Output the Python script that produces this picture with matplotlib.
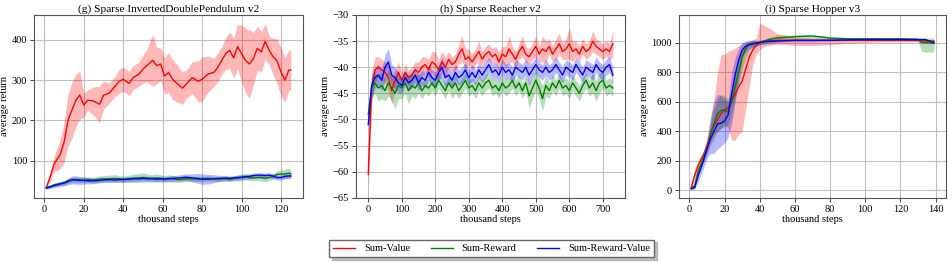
import numpy as np
import matplotlib
matplotlib.use('Agg')
import matplotlib.pyplot as plt

plt.rcParams['font.family'] = ['Liberation Serif', 'DejaVu Serif']
plt.rcParams['mathtext.fontset'] = 'stix'

#------------------------
# (g) Sparse InvertedDoublePendulum v2
#------------------------
idp_x = [1, 3, 5, 8, 10, 12, 14, 16, 18, 20, 22, 25, 28, 30, 33, 36, 38, 40, 43, 45, 48, 50, 52, 55, 57, 59,
         61, 63, 65, 68, 70, 72, 75, 78, 80, 83, 86, 88, 90, 92, 94, 96, 98, 100, 102, 104, 106, 108, 110,
         112, 114, 116, 118, 120, 122, 124, 125]
idp_value = [33, 60, 92, 115, 145, 200, 225, 250, 263, 238, 250, 248, 240, 262, 268, 285, 297, 302, 292, 306,
             315, 327, 336, 349, 336, 340, 310, 319, 302, 289, 280, 290, 306, 297, 302, 315, 319, 332, 349, 366,
             374, 355, 383, 366, 349, 340, 353, 379, 370, 396, 374, 358, 348, 320, 300, 325, 325]
idp_value_sd = [5, 10, 20, 35, 50, 65, 70, 65, 60, 30, 25, 35, 45, 35, 25, 25, 30, 30, 30, 30, 30, 35, 40, 65,
                45, 40, 45, 50, 50, 45, 40, 35, 40, 50, 55, 45, 35, 35, 35, 40, 45, 50, 55, 70, 80, 85, 65, 55,
                50, 45, 35, 45, 55, 60, 55, 50, 50]
idp_reward = [33, 36, 40, 43, 45, 50, 53, 53, 52, 52, 53, 52, 54, 55, 55, 56, 55, 54, 55, 56, 57, 58, 57, 56,
              57, 56, 55, 56, 55, 53, 54, 55, 55, 54, 55, 56, 55, 54, 55, 55, 54, 56, 57, 58, 60, 58, 57, 58,
              58, 56, 58, 60, 66, 67, 67, 69, 68]
idp_reward_sd = [3, 4, 5, 5, 6, 6, 6, 7, 6, 6, 7, 7, 8, 8, 9, 9, 8, 8, 9, 10, 11, 12, 10, 9, 10, 9, 8, 9, 8,
                 7, 7, 7, 6, 6, 6, 6, 6, 6, 6, 6, 6, 6, 7, 8, 8, 7, 7, 7, 8, 8, 7, 7, 9, 10, 12, 12, 10]
idp_rv = [32, 35, 38, 42, 44, 48, 52, 52, 51, 51, 50, 50, 51, 52, 53, 52, 53, 53, 54, 55, 55, 56, 55, 55, 54,
          55, 54, 55, 56, 57, 58, 59, 57, 56, 54, 54, 55, 56, 56, 57, 56, 57, 58, 59, 60, 61, 63, 64, 64, 63,
          64, 62, 58, 58, 61, 62, 62]
idp_rv_sd = [3, 4, 5, 6, 6, 8, 10, 10, 10, 9, 8, 7, 6, 6, 6, 6, 6, 6, 6, 6, 6, 6, 6, 6, 6, 6, 6, 6, 7, 7, 8,
             8, 10, 12, 13, 12, 10, 8, 7, 6, 6, 6, 6, 6, 6, 6, 6, 6, 6, 6, 6, 6, 6, 6, 6, 6, 6]

#------------------------
# (h) Sparse Reacher v2
#------------------------
rea_x = list(range(0, 740, 10))
rea_value = [-60.5, -44, -40.5, -40, -40.5, -41, -42, -44.5, -42.5, -41, -42.5, -41, -42, -41.5, -40.5, -41,
             -40, -39.5, -40.5, -39, -39.5, -40.5, -39, -40, -38.5, -39.5, -39, -37.5, -36.5, -38.5, -38, -39,
             -38, -37, -38.5, -37.5, -37, -38, -37.5, -39, -37.5, -38, -36.5, -37.5, -38.5, -37, -36, -37.5,
             -38, -37, -36, -37.5, -36.5, -37, -36, -37.5, -36.5, -35.5, -37, -36.5, -35.5, -37, -36.5, -37.5,
             -36, -37, -36.5, -35, -36, -36.5, -37, -36.5, -37, -35.5]
rea_value_sd = [3, 3, 2.5, 2, 2, 2, 2.5, 2.5, 2, 2, 1.5, 1.5, 1.5, 1.5, 1.5, 2, 2, 1.5, 2, 2, 2.5, 2, 2, 2,
                1.5, 1.5, 1.5, 2, 2.5, 2, 1.5, 1.5, 1.5, 2, 1.5, 1.5, 1.5, 1.5, 1.5, 2, 1.5, 2, 2.5, 1.5, 1.5,
                1.5, 2, 1.5, 1.5, 1.5, 2, 1.5, 2.5, 2, 1.5, 1.5, 2, 2, 1.5, 2, 3, 2, 1.5, 1.5, 1.5, 1.5, 1.5,
                2, 1.5, 1.5, 1.5, 1.5, 1.5, 2.5]
rea_reward = [-49, -44, -43, -44, -43.5, -44.5, -43, -44, -45, -43.5, -44, -43, -44.5, -43.5, -44, -43, -44.5,
              -43.5, -44, -43, -44, -42.5, -43.5, -44.5, -43, -44, -43, -44.5, -43.5, -42.5, -44, -43.5, -44.5,
              -43, -44, -43, -42.5, -44, -43.5, -44.5, -43, -44, -43.5, -42.5, -44, -43, -44.5, -43, -45.5,
              -44, -42.5, -44, -46, -43.5, -44.5, -43, -44, -42.5, -44, -43.5, -44.5, -43, -44, -45, -43.5,
              -42.5, -44, -43, -44.5, -43, -42.5, -44, -43.5, -44]
rea_reward_sd = [2, 2, 2, 2.5, 2.5, 2, 2.5, 2.5, 3, 2.5, 2, 2, 2.5, 2, 2, 2, 1.5, 1.5, 1.5, 1.5, 1.5, 1.5, 1.5,
                 1.5, 1.5, 2, 2, 1.5, 1.5, 1.5, 1.5, 1.5, 1.5, 1.5, 1.5, 1.5, 1.5, 1.5, 1.5, 1.5, 1.5, 1.5, 1.5,
                 1.5, 1.5, 1.5, 1.5, 1.5, 2.5, 2, 2, 2, 2.5, 2, 1.5, 1.5, 1.5, 1.5, 1.5, 1.5, 1.5, 1.5, 1.5,
                 1.5, 1.5, 1.5, 1.5, 2, 2, 2, 1.5, 1.5, 1.5, 1.5]
rea_rv = [-51, -43.5, -42, -41.5, -42.5, -40, -39, -41.5, -42, -43, -43.5, -42, -43, -42.5, -41.5, -43, -42,
          -42.5, -41, -42, -42.5, -41, -40, -42, -41.5, -42.5, -41, -42, -41.5, -40.5, -42, -41, -42, -40.5,
          -41.5, -40.5, -39.5, -41, -40.5, -41.5, -40, -41, -40.5, -41.5, -40, -40.5, -41, -40, -41.5, -40.5,
          -39.5, -40.5, -41, -40, -41, -40.5, -39.5, -40.5, -41.5, -40, -40.5, -41, -39.5, -40.5, -41.5,
          -40, -40.5, -41, -39.5, -40.5, -41, -40, -39.5, -41.5]
rea_rv_sd = [2, 2, 2, 2, 2, 2.5, 2.5, 2, 2, 2, 1.5, 1.5, 1.5, 1.5, 1.5, 1.5, 1.5, 1.5, 1.5, 1.5, 1.5, 1.5, 2, 2,
             1.5, 1.5, 1.5, 1.5, 1.5, 1.5, 1.5, 1.5, 1.5, 1.5, 1.5, 1.5, 1.5, 1.5, 1.5, 1.5, 1.5, 1.5, 1.5, 1.5,
             1.5, 1.5, 1.5, 1.5, 2, 1.5, 1.5, 1.5, 1.5, 1.5, 1.5, 1.5, 1.5, 1.5, 1.5, 1.5, 1.5, 1.5, 1.5, 1.5,
             1.5, 1.5, 1.5, 1.5, 1.5, 1.5, 1.5, 1.5, 1.5, 1.5]

#------------------------
# (i) Sparse Hopper v3
#------------------------
hop_x = [1, 3, 5, 8, 10, 12, 14, 16, 18, 20, 22, 24, 26, 28, 30, 32, 34, 36, 38, 40, 42, 45, 50, 55, 60, 70,
         80, 90, 100, 110, 120, 130, 132, 134, 139]
hop_value = [20, 100, 170, 240, 300, 380, 440, 480, 520, 540, 560, 600, 650, 700, 740, 820, 900, 950, 980,
             1000, 1010, 1010, 1015, 1015, 1015, 1015, 1015, 1015, 1015, 1015, 1015, 1015, 1012, 1010, 1010]
hop_value_lo = [10, 60, 140, 200, 260, 330, 380, 400, 420, 450, 420, 340, 340, 380, 400, 550, 700, 850, 920,
                950, 970, 980, 990, 985, 980, 980, 985, 995, 1000, 1005, 1005, 1005, 1000, 1000, 1000]
hop_value_hi = [40, 150, 200, 270, 360, 480, 620, 800, 920, 920, 940, 950, 960, 980, 990, 1000, 1010, 1020,
                1030, 1130, 1120, 1100, 1060, 1050, 1035, 1030, 1025, 1025, 1025, 1025, 1025, 1025, 1025,
                1020, 1020]
hop_reward = [15, 30, 130, 220, 280, 380, 450, 520, 540, 545, 530, 600, 700, 800, 900, 960, 990, 995, 998,
              1000, 1005, 1020, 1030, 1035, 1040, 1045, 1030, 1025, 1025, 1025, 1025, 1022, 1000, 998, 995]
hop_reward_lo = [10, 15, 100, 190, 240, 310, 350, 400, 420, 430, 440, 520, 620, 720, 820, 900, 950, 970, 980,
                 985, 990, 1000, 1010, 1020, 1025, 1030, 1020, 1015, 1015, 1015, 1015, 1010, 940, 935, 935]
hop_reward_hi = [20, 50, 160, 250, 320, 450, 550, 620, 650, 640, 620, 680, 780, 880, 960, 1000, 1010, 1015,
                 1015, 1015, 1020, 1035, 1050, 1050, 1050, 1050, 1040, 1035, 1035, 1035, 1035, 1030, 1030, 1030,
                 1030]
hop_rv = [10, 20, 100, 200, 280, 350, 400, 450, 455, 470, 510, 650, 780, 880, 950, 975, 985, 990, 995, 1000,
          1005, 1008, 1010, 1012, 1015, 1015, 1015, 1018, 1020, 1020, 1020, 1020, 1020, 1020, 1000]
hop_rv_lo = [5, 10, 60, 150, 220, 250, 250, 280, 300, 320, 360, 450, 600, 750, 900, 940, 960, 970, 975, 985,
             990, 995, 1000, 1005, 1005, 1005, 1010, 1012, 1012, 1012, 1012, 1012, 1012, 1012, 995]
hop_rv_hi = [20, 40, 130, 250, 330, 500, 600, 650, 640, 620, 600, 800, 900, 960, 1000, 1010, 1015, 1015,
             1015, 1015, 1015, 1018, 1020, 1020, 1022, 1022, 1022, 1025, 1028, 1028, 1028, 1028, 1028, 1028,
             1010]

labels = ['Sum-Value', 'Sum-Reward', 'Sum-Reward-Value']
colors = ['red', 'green', 'blue']


def style_axes(ax, title):
    ax.set_title(title, fontsize=8.2, pad=2)
    ax.set_xlabel('thousand steps', fontsize=7.5, labelpad=1)
    ax.set_ylabel('average return', fontsize=7.5, labelpad=2)
    ax.grid(True, color='#c0c0c0', linewidth=0.8)
    ax.set_axisbelow(True)
    ax.tick_params(labelsize=7.5, length=3, width=0.7, color='#444444', pad=2)
    for sp in ax.spines.values():
        sp.set_color('#555555')
        sp.set_linewidth(0.8)


fig = plt.figure(figsize=(9.53, 2.62), dpi=100)
ax1 = fig.add_axes([0.0357, 0.2443, 0.2823, 0.6985])
ax2 = fig.add_axes([0.3736, 0.2443, 0.2823, 0.6985])
ax3 = fig.add_axes([0.7125, 0.2443, 0.2802, 0.6985])

# symmetric bands for the first two panels
for ax, x, series in [(ax1, idp_x, [(idp_value, idp_value_sd), (idp_reward, idp_reward_sd), (idp_rv, idp_rv_sd)]),
                      (ax2, rea_x, [(rea_value, rea_value_sd), (rea_reward, rea_reward_sd), (rea_rv, rea_rv_sd)])]:
    x = np.array(x)
    for (m, s), c, lab in zip(series, colors, labels):
        m = np.array(m)
        s = np.array(s)
        ax.fill_between(x, m - s, m + s, color=c, alpha=0.28, linewidth=0)
        ax.plot(x, m, color=c, linewidth=1.0, label=lab)

hop = [(hop_value, hop_value_lo, hop_value_hi), (hop_reward, hop_reward_lo, hop_reward_hi),
       (hop_rv, hop_rv_lo, hop_rv_hi)]
for (m, lo, hi), c, lab in zip(hop, colors, labels):
    ax3.fill_between(hop_x, lo, hi, color=c, alpha=0.28, linewidth=0)
    ax3.plot(hop_x, m, color=c, linewidth=1.0, label=lab)

style_axes(ax1, '(g) Sparse InvertedDoublePendulum v2')
style_axes(ax2, '(h) Sparse Reacher v2')
style_axes(ax3, '(i) Sparse Hopper v3')
ax1.set_yticks([100, 200, 300, 400])
ax2.set_yticks(np.arange(-65, -29, 5))
ax2.set_xticks(np.arange(0, 701, 100))
ax3.set_xticks(np.arange(0, 141, 20))

handles, labs = ax1.get_legend_handles_labels()
fig.legend(handles, labs, loc='center', bbox_to_anchor=(0.5157, 0.0515), ncol=3, fontsize=7.5,
           shadow={'color': '0.6', 'alpha': 0.6}, fancybox=False, handlelength=2.1, columnspacing=2.0,
           edgecolor='#666666', borderpad=0.4, handletextpad=0.85, borderaxespad=0)

plt.savefig('out.png', dpi=100)
plt.close()
